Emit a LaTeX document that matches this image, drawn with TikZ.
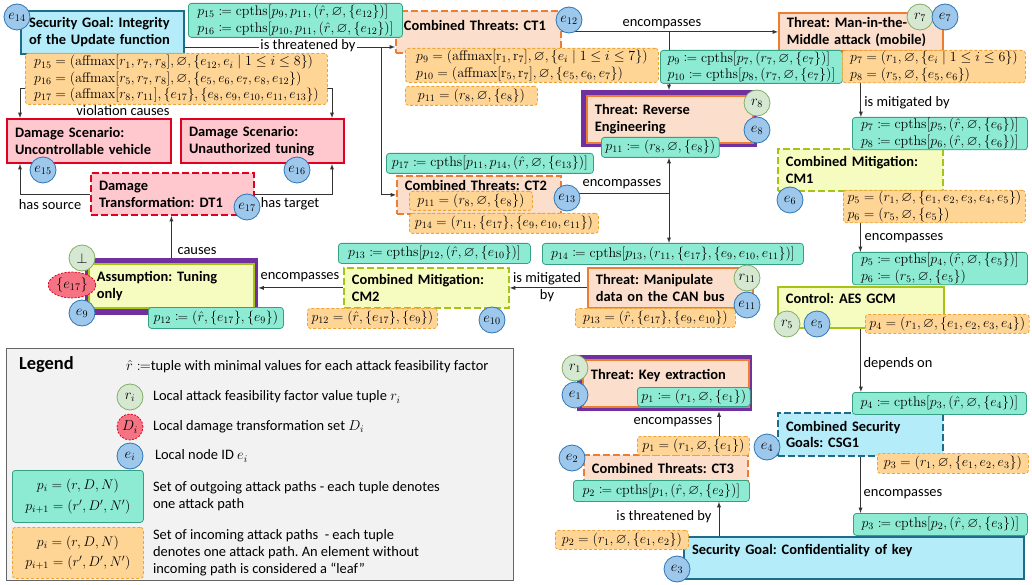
\RequirePackage{fix-cm}
\documentclass[tikz,border=0pt]{standalone}
\usepackage{amsmath,amssymb,mathtools}
\usepackage[no-math]{fontspec}
\setmainfont{Carlito}
\usetikzlibrary{backgrounds,shapes.geometric}

\definecolor{outfill}{RGB}{141,235,211}
\definecolor{outdraw}{RGB}{54,160,130}
\definecolor{infill}{RGB}{255,213,150}
\definecolor{indraw}{RGB}{240,165,50}
\definecolor{thfill}{RGB}{251,222,203}
\definecolor{thdraw}{RGB}{237,125,49}
\definecolor{mtfill}{RGB}{246,252,192}
\definecolor{mtdraw}{RGB}{166,196,22}
\definecolor{sgfill}{RGB}{181,236,250}
\definecolor{sgdraw}{RGB}{28,108,138}
\definecolor{dmfill}{RGB}{255,199,206}
\definecolor{dmdraw}{RGB}{224,0,32}
\definecolor{frm}{RGB}{112,48,160}
\definecolor{rfill}{RGB}{214,232,210}
\definecolor{rdraw}{RGB}{130,175,100}
\definecolor{efill}{RGB}{157,200,236}
\definecolor{edraw}{RGB}{46,117,182}
\definecolor{dfill}{RGB}{245,115,130}
\definecolor{lgfill}{RGB}{242,242,242}

\newcommand{\cpths}{\mathrm{cpths}}
\newcommand{\affmax}{\mathrm{affmax}}
\newcommand{\rhat}{\hat{r}}
\newcommand{\eset}{\varnothing}
\newcommand{\pathsize}{\fontsize{14}{16.5}\selectfont}

\tikzset{
  goal/.style={draw=sgdraw, fill=sgfill, line width=2bp, anchor=north west,
    align=left, inner xsep=8bp, inner ysep=3bp, font=\bfseries},
  damage/.style={goal, draw=dmdraw, fill=dmfill},
  threat/.style={goal, draw=thdraw, fill=thfill, line width=1.8bp},
  mitig/.style={goal, draw=mtdraw, fill=mtfill, line width=1.8bp},
  combined/.style={dash pattern=on 7bp off 3bp},
  outpath/.style={draw=outdraw, fill=outfill, line width=0.8bp, rounded corners=3bp,
    anchor=north west, align=left, inner xsep=4bp, inner ysep=1bp, font=\pathsize},
  inpath/.style={outpath, draw=indraw, fill=infill, dash pattern=on 3bp off 2bp},
  purplebox/.style={fill=frm, anchor=north west, inner sep=0pt},
  idnode/.style={circle, draw=edraw, fill=efill, line width=0.8bp, minimum size=26bp, inner sep=0pt},
  rnode/.style={idnode, draw=rdraw, fill=rfill},
  dnode/.style={ellipse, draw=dmdraw, fill=dfill, line width=0.8bp, dash pattern=on 2bp off 1.5bp,
    minimum height=26bp, minimum width=26bp, inner sep=1bp},
  conn/.style={draw=black!80, line width=0.9bp},
}

\begin{document}
\frenchspacing
\fontsize{14.5}{17}\selectfont
\begin{tikzpicture}[x=1bp,y=-1bp,>=latex]
\useasboundingbox (0,0) rectangle (1032,585);

% purple frames
\node[purplebox, minimum width=173bp, minimum height=57bp] (asmframe) at (85,258) {};
\node[purplebox, minimum width=176bp, minimum height=57bp] (revframe) at (581,90) {};
\node[purplebox, minimum width=175bp, minimum height=56bp] (keyframe) at (577,355) {};

% elements
\node[goal, text width=147bp, minimum height=43bp] (sgint) at (20,10) {Security Goal: Integrity\\of the Update function};
\node[damage, text width=148bp, minimum height=44bp] (ds1) at (6,118) {Damage Scenario:\\Uncontrollable vehicle};
\node[damage, text width=147bp, minimum height=44bp] (ds2) at (180,118) {Damage Scenario:\\Unauthorized tuning};
\node[damage, combined, text width=147bp, minimum height=42bp] (dt1) at (90,172) {Damage\\Transformation: DT1};
\node[mitig, text width=149bp, minimum height=44bp] (asm) at (88,263) {Assumption: Tuning\\only};
\node[mitig, combined, text width=149bp, minimum height=40bp] (cm2) at (343,267) {Combined Mitigation:\\CM2};
\node[threat, text width=149bp, minimum height=40bp] (can) at (587,267) {Threat: Manipulate\\data on the CAN bus};
\node[threat, combined, text width=148bp, minimum height=38bp, text height=11.5bp, text depth=20.5bp] (ct2) at (396,175) {Combined Threats: CT2};
\node[threat, combined, text width=149bp, minimum height=42bp, text height=16.5bp, text depth=19.5bp] (ct1) at (395,10) {Combined Threats: CT1};
\node[threat, text width=150bp, minimum height=47bp] (rev) at (586,95) {Threat: Reverse\\Engineering};
\node[threat, text width=148bp, minimum height=38bp] (mitm) at (778,12) {Threat: Man-in-the-\\Middle attack (mobile)};
\node[mitig, combined, text width=149bp, minimum height=42bp] (cm1) at (777,148) {Combined Mitigation:\\CM1};
\node[mitig, text width=150bp, minimum height=41bp, text height=13.5bp, text depth=21.5bp] (aes) at (777,286) {Control: AES GCM};
\node[goal, combined, text width=149bp, minimum height=43bp] (csg) at (777,412) {Combined Security\\Goals: CSG1};
\node[goal, text width=324bp, minimum height=42bp, text height=14bp, text depth=22bp] (sgkey) at (683,536) {Security Goal: Confidentiality of key};
\node[threat, combined, text width=148bp, minimum height=28bp] (ct3) at (583,454) {Combined Threats: CT3};
\node[threat, text width=150bp, minimum height=47bp, text height=17bp, text depth=24bp] (key) at (582,359) {Threat: Key extraction};

% outgoing paths
\node[outpath, minimum width=214bp, minimum height=34bp] (ct1out) at (188,3) {$p_{15}\coloneqq\cpths[p_9,p_{11},(\rhat,\eset,\{e_{12}\})]$\\$p_{16}\coloneqq\cpths[p_{10},p_{11},(\rhat,\eset,\{e_{12}\})]$};
\node[outpath, minimum width=182bp, minimum height=33bp] (mitmout) at (660,50) {$p_9\coloneqq\cpths[p_7,(r_7,\eset,\{e_7\})]$\\$p_{10}\coloneqq\cpths[p_8,(r_7,\eset,\{e_7\})]$};
\node[outpath, minimum width=117bp, minimum height=20bp] (revout) at (601,137) {$p_{11}\coloneqq(r_8,\eset,\{e_8\})$};
\node[outpath, minimum width=175bp, minimum height=30bp] (cm1out) at (852,117) {$p_7\coloneqq\cpths[p_5,(\rhat,\eset,\{e_6\})]$\\$p_8\coloneqq\cpths[p_6,(\rhat,\eset,\{e_6\})]$};
\node[outpath, minimum width=175bp, minimum height=31bp] (aesout) at (852,252) {$p_5\coloneqq\cpths[p_4,(\rhat,\eset,\{e_5\})]$\\$p_6\coloneqq(r_5,\eset,\{e_5\})$};
\node[outpath, minimum width=207bp, minimum height=20bp] (ct2out) at (386,153) {$p_{17}\coloneqq\cpths[p_{11},p_{14},(\rhat,\eset,\{e_{13}\})]$};
\node[outpath, minimum width=261bp, minimum height=21bp] (canout) at (542,243) {$p_{14}\coloneqq\cpths[p_{13},(r_{11},\{e_{17}\},\{e_9,e_{10},e_{11}\})]$};
\node[outpath, minimum width=192bp, minimum height=20bp] (cm2out) at (338,243) {$p_{13}\coloneqq\cpths[p_{12},(\rhat,\eset,\{e_{10}\})]$};
\node[outpath, minimum width=135bp, minimum height=21bp] (asmout) at (148,307) {$p_{12}\coloneqq(\rhat,\{e_{17}\},\{e_9\})$};
\node[outpath, minimum width=174bp, minimum height=22bp] (csgout) at (852,392) {$p_4\coloneqq\cpths[p_3,(\rhat,\eset,\{e_4\})]$};
\node[outpath, minimum width=174bp, minimum height=22bp] (sgkeyout) at (853,513) {$p_3\coloneqq\cpths[p_2,(\rhat,\eset,\{e_3\})]$};
\node[outpath, minimum width=176bp, minimum height=21bp] (ct3out) at (573,480) {$p_2\coloneqq\cpths[p_1,(\rhat,\eset,\{e_2\})]$};
\node[outpath, minimum width=112bp, minimum height=19bp] (keyout) at (637,387) {$p_1\coloneqq(r_1,\eset,\{e_1\})$};

% incoming paths
\node[inpath, minimum width=302bp, minimum height=51bp] (sgintin) at (25,53) {$p_{15}=(\affmax[r_1,r_7,r_8],\eset,\{e_{12},e_i\mid 1\le i\le 8\})$\\$p_{16}=(\affmax[r_5,r_7,r_8],\eset,\{e_5,e_6,e_7,e_8,e_{12}\})$\\$p_{17}=(\affmax[r_8,r_{11}],\{e_{17}\},\{e_8,e_9,e_{10},e_{11},e_{13}\})$};
\node[inpath, minimum width=253bp, minimum height=34bp] (ct1in) at (405,48) {$p_9=(\affmax[\mathrm{r}_1,\mathrm{r}_7],\eset,\{e_i\mid 1\le i\le 7\})$\\$p_{10}=(\affmax[\mathrm{r}_5,\mathrm{r}_7],\eset,\{e_5,e_6,e_7\})$};
\node[inpath, minimum width=132bp, minimum height=19bp] (ct1inb) at (405,86) {$p_{11}=(r_8,\eset,\{e_8\})$};
\node[inpath, minimum width=183bp, minimum height=32bp] (mitmin) at (842,50) {$p_7=(r_1,\eset,\{e_i\mid 1\le i\le 6\})$\\$p_8=(r_5,\eset,\{e_5,e_6\})$};
\node[inpath, minimum width=182bp, minimum height=31bp] (cm1in) at (843,190) {$p_5=(r_1,\eset,\{e_1,e_2,e_3,e_4,e_5\})$\\$p_6=(r_5,\eset,\{e_5\})$};
\node[inpath, minimum width=163bp, minimum height=19bp] (aesin) at (865,314) {$p_4=(r_1,\eset,\{e_1,e_2,e_3,e_4\})$};
\node[inpath, minimum width=123bp, minimum height=19bp] (ct2in) at (409,191) {$p_{11}=(r_8,\eset,\{e_8\})$};
\node[inpath, minimum width=189bp, minimum height=20bp] (ct2inb) at (409,213) {$p_{14}=(r_{11},\{e_{17}\},\{e_9,e_{10},e_{11}\})$};
\node[inpath, minimum width=160bp, minimum height=19bp] (canin) at (575,308) {$p_{13}=(\rhat,\{e_{17}\},\{e_9,e_{10}\})$};
\node[inpath, minimum width=130bp, minimum height=20bp] (cm2in) at (307,308) {$p_{12}=(\rhat,\{e_{17}\},\{e_9\})$};
\node[inpath, minimum width=151bp, minimum height=20bp] (csgin) at (877,453) {$p_3=(r_1,\eset,\{e_1,e_2,e_3\})$};
\node[inpath, minimum width=133bp, minimum height=19bp] (sgkeyin) at (555,530) {$p_2=(r_1,\eset,\{e_1,e_2\})$};
\node[inpath, minimum width=112bp, minimum height=19bp] (ct3in) at (637,436) {$p_1=(r_1,\eset,\{e_1\})$};

% connectors
\begin{pgfonlayer}{background}
\coordinate (thr) at (381,47);
\coordinate (vio) at (101,88);
\coordinate (enc1) at (669,31);
\coordinate (enc2) at (669,193);
\coordinate (thr2) at (719,520);
\draw[conn] (sgint.east |- thr) -- (thr);
\draw[conn,->] (thr) -- (ct1.west |- thr);
\draw[conn,->] (thr) |- (ct2.west);
\draw[conn] (sgint.south) -- (sgint.south |- vio);
\draw[conn,->] (sgint.south |- vio) -| ([xshift=14bp]ds1.north west);
\draw[conn,->] (sgint.south |- vio) -| ([xshift=-13bp]ds2.north east);
\draw[conn,->] (dt1.west) -| ([xshift=14bp]ds1.south west);
\draw[conn,->] (dt1.east) -| ([xshift=-13bp]ds2.south east);
\draw[conn,->] (asm.north) -- (asm.north |- dt1.south);
\draw[conn,->] (cm2.west) -- (asmframe.east |- cm2.west);
\draw[conn,->] (can.west) -- (cm2.east |- can.west);
\draw[conn] (ct2.east |- enc2) -- (enc2);
\draw[conn,->] (enc2) -- (enc2 |- revout.south);
\draw[conn,->] (enc2) -- (enc2 |- canout.north);
\draw[conn,->] (ct1.east) -- (mitm.west |- ct1.east);
\draw[conn,->] (enc1) -- (enc1 |- revframe.north);
\draw[conn,->] (mitm.south) -- (mitm.south |- cm1out.north);
\draw[conn,->] (cm1.south) -- (cm1.south |- aesout.north);
\draw[conn,->] (aes.south) -- (aes.south |- csgout.north);
\draw[conn,->] (csg.south) -- (csg.south |- sgkeyout.north);
\draw[conn,->] (sgkey.north -| thr2) -- (thr2 |- ct3out.south);
\draw[conn,->] (ct3in.north -| thr2) -- (thr2 |- keyframe.south);
\end{pgfonlayer}

% connector labels
\node[fill=white, inner sep=1bp] (lthr) at (308,46) {is threatened by};
\node (lvio) at (123,111) {violation causes};
\node (lsrc) at (50,205) {has source};
\node (ltgt) at (290,204) {has target};
\node (lcau) at (197,251) {causes};
\node (lenc3) at (300,277) {encompasses};
\node[align=center, inner sep=0pt] (lmit2) at (547,287) {is mitigated\\by};
\node (lenc2) at (622,184) {encompasses};
\node (lenc1) at (662,24) {encompasses};
\node (lmit1) at (907,103) {is mitigated by};
\node (lenc4) at (904,238) {encompasses};
\node (ldep) at (898,364) {depends on};
\node (lenc5) at (903,494) {encompasses};
\node (lthr2) at (664,517) {is threatened by};
\node (lenc6) at (673,422) {encompasses};

% local values
\node[idnode] (e14) at (17,17) {$e_{14}$};
\node[idnode] (e15) at (43,170) {$e_{15}$};
\node[idnode] (e16) at (297,170) {$e_{16}$};
\node[idnode] (e17) at (247,207) {$e_{17}$};
\node[rnode] (rbot) at (82,258) {$\bot$};
\node[dnode] (d17) at (72,285) {$\{e_{17}\}$};
\node[idnode] (e9) at (82,313) {$e_9$};
\node[idnode] (e10) at (492,320) {$e_{10}$};
\node[rnode] (r11) at (747,278) {$r_{11}$};
\node[idnode] (e11) at (747,305) {$e_{11}$};
\node[idnode] (e13) at (567,198) {$e_{13}$};
\node[idnode] (e12) at (569,20) {$e_{12}$};
\node[rnode] (r8) at (757,103) {$r_8$};
\node[idnode] (e8) at (757,130) {$e_8$};
\node[rnode] (r7) at (920,17) {$r_7$};
\node[idnode] (e7) at (945,17) {$e_7$};
\node[idnode] (e6) at (790,200) {$e_6$};
\node[rnode] (r5) at (787,324) {$r_5$};
\node[idnode] (e5) at (817,324) {$e_5$};
\node[idnode] (e4) at (767,447) {$e_4$};
\node[idnode] (e3) at (677,569) {$e_3$};
\node[idnode] (e2) at (572,458) {$e_2$};
\node[rnode] (r1) at (575,368) {$r_1$};
\node[idnode] (e1) at (575,395) {$e_1$};

% legend
\node[draw=black!60, fill=lgfill, line width=0.8bp, anchor=north west, minimum width=507bp, minimum height=232bp] (legend) at (6,348) {};
\node[font=\fontsize{18.5}{22}\selectfont\bfseries, anchor=west] (legtitle) at (14,365) {Legend};
\node[anchor=west] (leghat) at (121,367) {$\rhat\coloneqq$tuple with minimal values for each attack feasibility factor};
\node[rnode] (legr) at (130,397) {$r_i$};
\node[anchor=west] (legrtxt) at (148,397) {Local attack feasibility factor value tuple $r_i$};
\node[dnode] (legd) at (130,427) {$D_i$};
\node[anchor=west] (legdtxt) at (148,427) {Local damage transformation set $D_i$};
\node[idnode] (lege) at (130,456) {$e_i$};
\node[anchor=west] (legetxt) at (150,456) {Local node ID $e_i$};
\node[outpath, align=center, minimum width=131bp, minimum height=52bp] (legout) at (12,470) {$p_i=(r,D,N)$\\[4bp]$p_{i+1}=(r',D',N')$};
\node[anchor=west, align=left] (legouttxt) at (148,496) {Set of outgoing attack paths - each tuple denotes\\one attack path};
\node[inpath, align=center, minimum width=131bp, minimum height=51bp] (legin) at (12,527) {$p_i=(r,D,N)$\\[4bp]$p_{i+1}=(r',D',N')$};
\node[anchor=west, align=left] (legintxt) at (148,553) {Set of incoming attack paths\ \ - each tuple\\denotes one attack path. An element without\\incoming path is considered a “leaf”};
\end{tikzpicture}
\end{document}
